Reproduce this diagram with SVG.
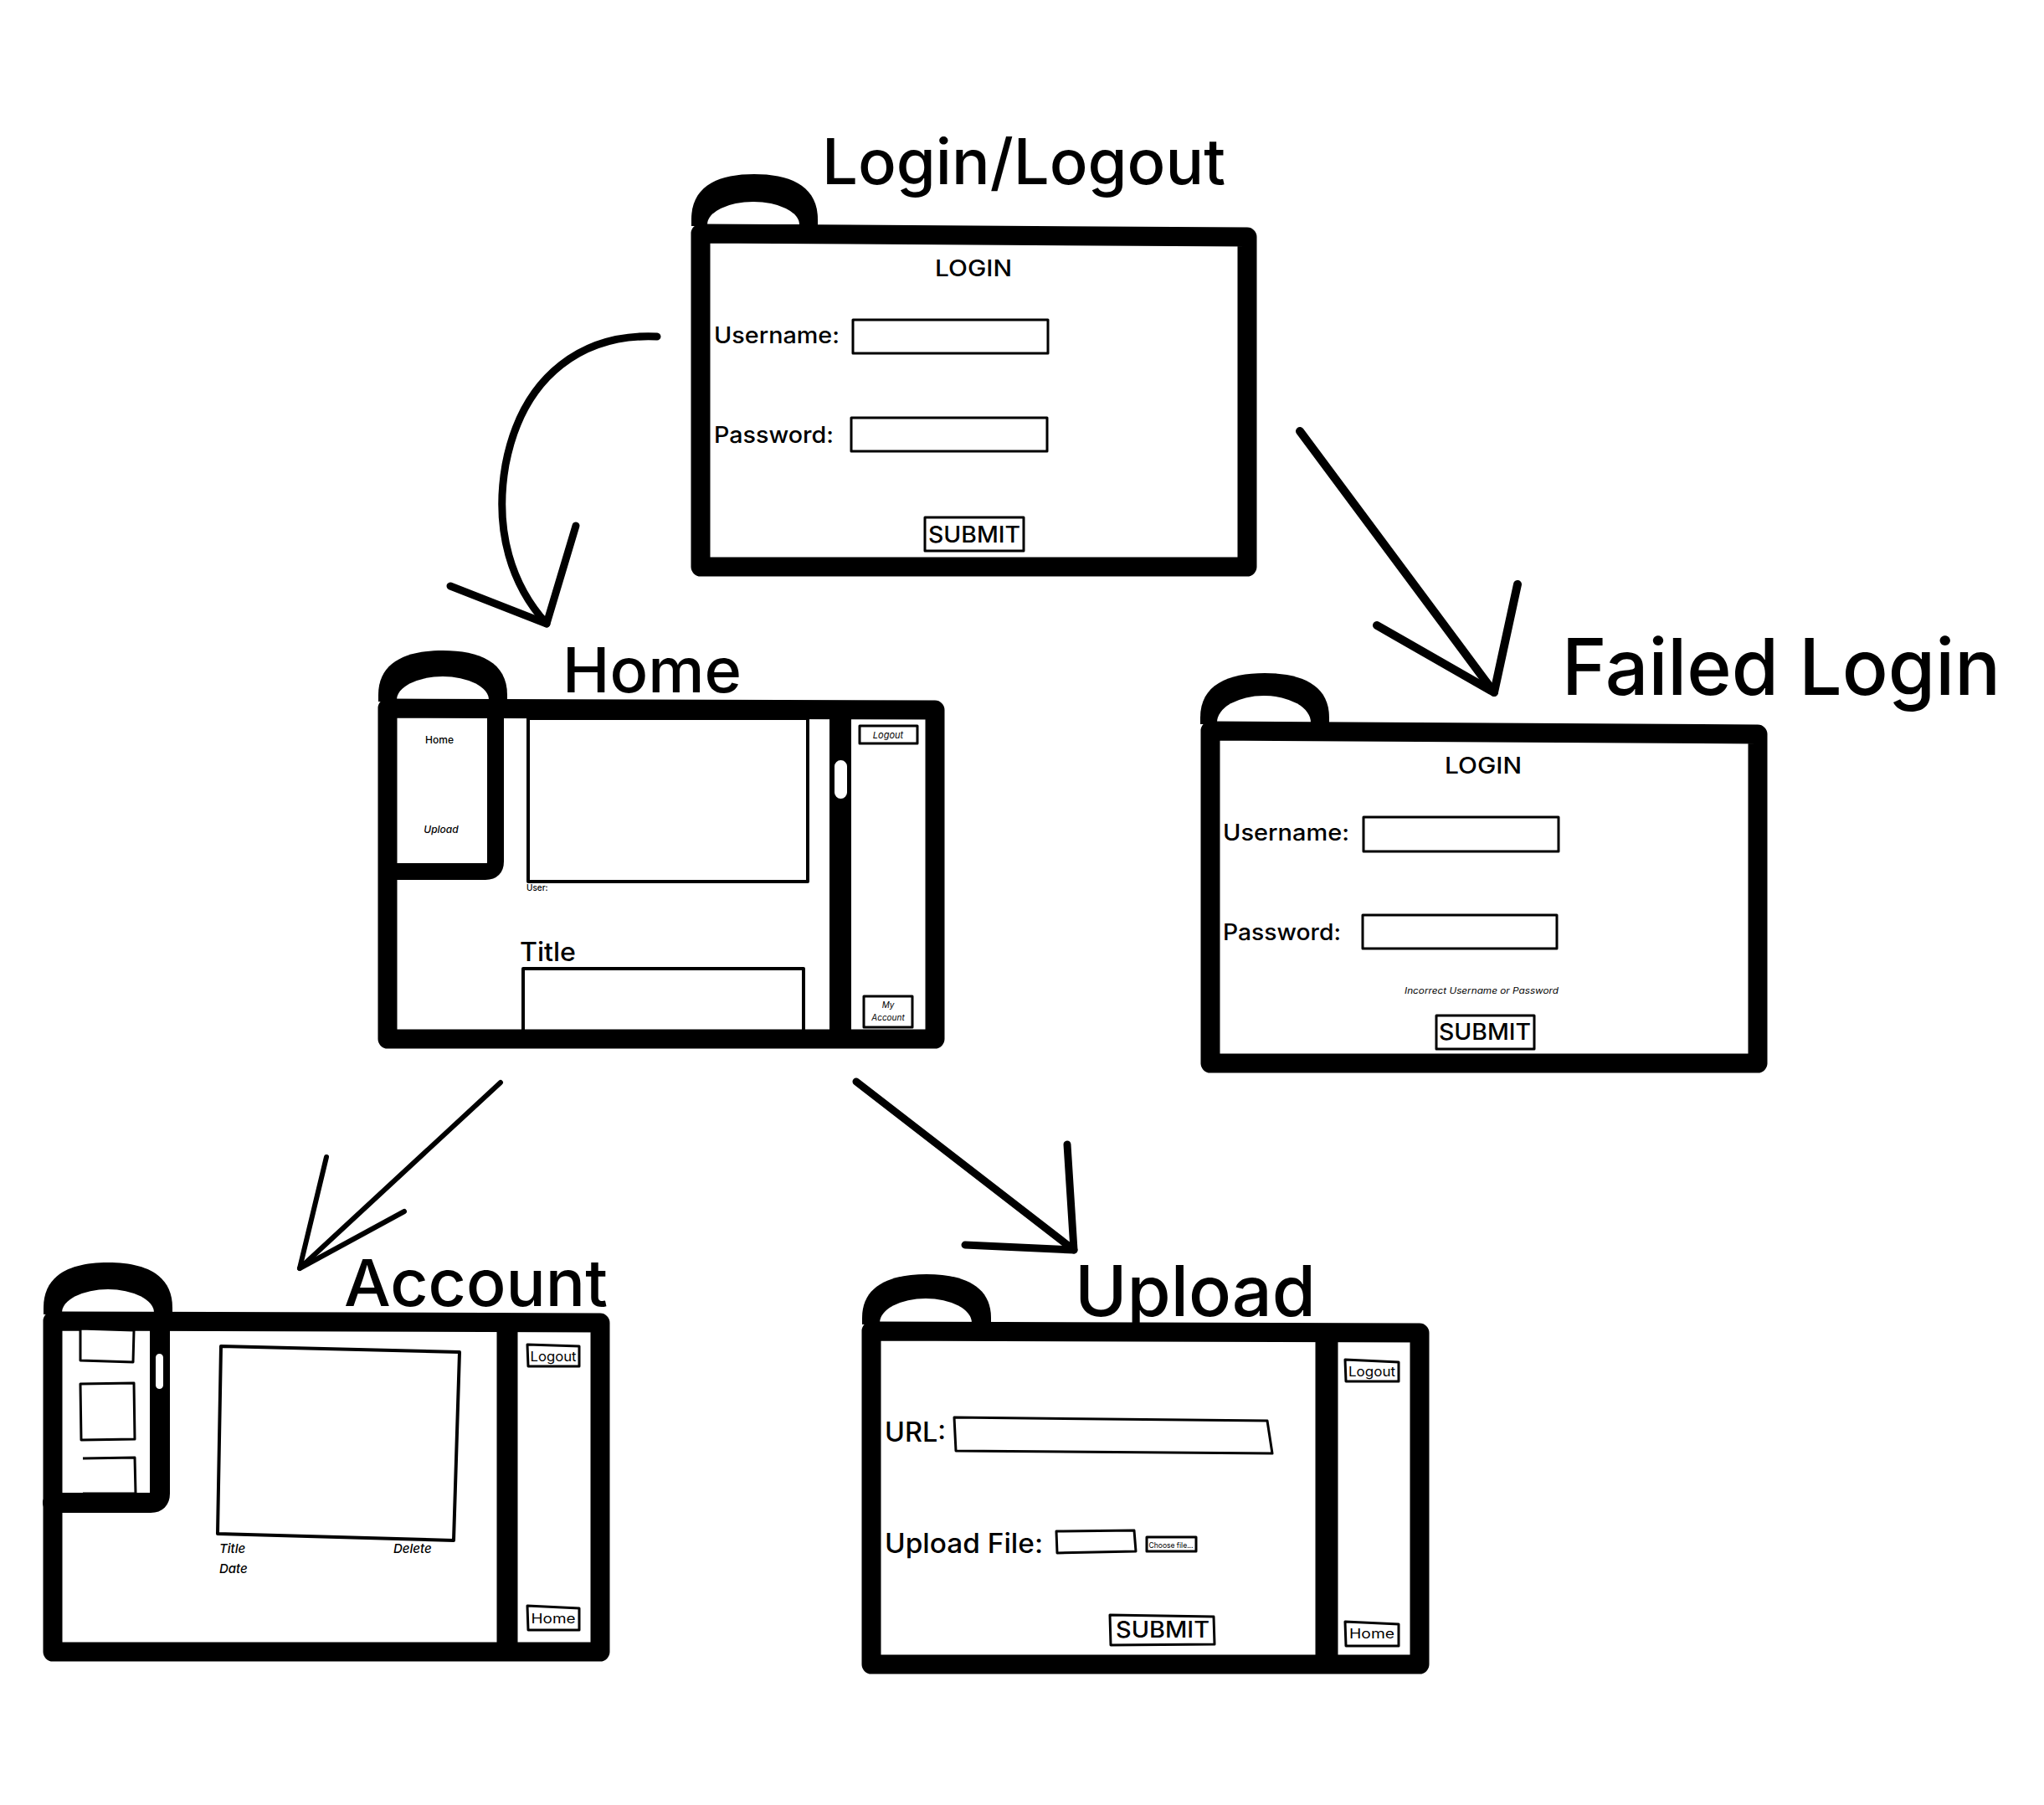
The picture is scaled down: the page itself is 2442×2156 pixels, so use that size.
<svg xmlns="http://www.w3.org/2000/svg" width="2442" height="2156" viewBox="0 0 2442 2156">
<defs>
<style>
.frame{fill:#fff;stroke:#000;stroke-width:23;stroke-linejoin:round;stroke-linecap:round}
.tabo{fill:#000}
.tabi{fill:#fff}
.thick{fill:none;stroke:#000;stroke-linecap:round;stroke-linejoin:round}
.box{fill:#fff;stroke:#000;stroke-width:4;stroke-linejoin:round}
.thin{fill:#fff;stroke:#000;stroke-width:3;stroke-linejoin:round}
.pill{fill:#fff;stroke:#000;stroke-width:2}
.conn{fill:none;stroke:#000;stroke-linecap:round;stroke-linejoin:round}
text{font-family:Inter,"Liberation Sans",Arial,sans-serif;fill:#000}
.title{font-weight:500}
.lbl{font-weight:500;font-size:27px}
.it{font-style:italic}
</style>
</defs>
<rect width="2442" height="2156" fill="#fff"/>

<g id="connectors">
<path class="conn" stroke-width="9" d="M785,402 C700,398 625,445 604,555 C590,635 612,700 653,745"/>
<path class="conn" stroke-width="9" d="M688,628 L653,745 L538,700"/>
<path class="conn" stroke-width="10" d="M1553,515 L1785,827"/>
<path class="conn" stroke-width="10" d="M1813,698 L1785,827 L1645,747"/>
<path class="conn" stroke-width="6" d="M598,1293 L358,1515"/>
<path class="conn" stroke-width="6" d="M390,1382 L358,1515 L483,1447"/>
<path class="conn" stroke-width="9" d="M1023,1292 L1283,1493"/>
<path class="conn" stroke-width="9" d="M1275,1367 L1283,1493 L1153,1487"/>
</g>

<g id="node-login">
<text class="title" x="982" y="220" font-size="75" textLength="482" lengthAdjust="spacingAndGlyphs">Login/Logout</text>
<path class="tabo" d="M826,270 L826,262 C826,222 858,208 901,208 C944,208 977,222 977,262 L977,270 Z"/>
<path class="tabi" d="M845,268 A55,27 0 0 1 955,268 Z"/>
<path class="frame" d="M837,279 L1490,283 L1490,677 L837,677 Z"/>
<text class="lbl" x="1163" y="330" text-anchor="middle" textLength="92" lengthAdjust="spacingAndGlyphs">LOGIN</text>
<text class="lbl" x="853" y="410" textLength="150" lengthAdjust="spacingAndGlyphs">Username:</text>
<rect class="thin" x="1019" y="382" width="233" height="40"/>
<text class="lbl" x="853" y="529" textLength="143" lengthAdjust="spacingAndGlyphs">Password:</text>
<rect class="thin" x="1017" y="499" width="234" height="40"/>
<rect class="thin" x="1105" y="618" width="118" height="40"/>
<text class="lbl" x="1164" y="648" text-anchor="middle" textLength="110" lengthAdjust="spacingAndGlyphs">SUBMIT</text>
</g>

<g id="node-home">
<text class="title" x="672" y="827" font-size="74" textLength="214" lengthAdjust="spacingAndGlyphs">Home</text>
<path class="tabo" d="M452,838 L452,830 C452,791 485,777 529,777 C573,777 606,791 606,830 L606,838 Z"/>
<path class="tabi" d="M474,836 A55,28 0 0 1 584,836 Z"/>
<path class="frame" d="M463,846 L1117,848 L1117,1241 L463,1241 Z"/>
<path class="thick" stroke-width="20" d="M463,1041 L580,1041 Q592,1041 592,1029 L592,846"/>
<text x="525" y="888" font-size="12" text-anchor="middle" font-weight="500">Home</text>
<text class="it" x="527" y="995" font-size="12" text-anchor="middle" font-weight="500">Upload</text>
<rect class="box" x="631" y="858" width="334" height="195"/>
<text x="629" y="1064" font-size="10" font-weight="500">User:</text>
<text x="621" y="1148" font-size="31" font-weight="500" textLength="67" lengthAdjust="spacingAndGlyphs">Title</text>
<path class="thick" stroke-width="4" d="M625,1232 L625,1157 L960,1157 L960,1232"/>
<line x1="1004" y1="846" x2="1004" y2="1241" stroke="#000" stroke-width="26"/>
<rect class="pill" x="996" y="907" width="17" height="48" rx="8.5"/>
<rect class="thin" x="1027" y="867" width="69" height="21"/>
<text class="it" x="1061" y="882" font-size="11" text-anchor="middle">Logout</text>
<rect class="thin" x="1032" y="1190" width="58" height="37"/>
<text class="it" x="1061" y="1204" font-size="10" text-anchor="middle">My</text>
<text class="it" x="1061" y="1219" font-size="10" text-anchor="middle">Account</text>
</g>

<g id="node-failed">
<text class="title" x="1866" y="830" font-size="93" textLength="524" lengthAdjust="spacingAndGlyphs">Failed Login</text>
<path class="tabo" d="M1434,865 L1434,857 C1434,818 1467,804 1511,804 C1555,804 1588,818 1588,857 L1588,865 Z"/>
<path class="tabi" d="M1454,863 A56,32 0 0 1 1566,863 Z"/>
<path class="frame" d="M1446,873 L2100,877 L2100,1270 L1446,1270 Z"/>
<text class="lbl" x="1772" y="924" text-anchor="middle" textLength="92" lengthAdjust="spacingAndGlyphs">LOGIN</text>
<text class="lbl" x="1461" y="1004" textLength="151" lengthAdjust="spacingAndGlyphs">Username:</text>
<rect class="thin" x="1629" y="976" width="233" height="41"/>
<text class="lbl" x="1461" y="1123" textLength="141" lengthAdjust="spacingAndGlyphs">Password:</text>
<rect class="thin" x="1628" y="1093" width="232" height="40"/>
<text class="it" x="1770" y="1187" font-size="10" text-anchor="middle" textLength="184" lengthAdjust="spacingAndGlyphs">Incorrect Username or Password</text>
<rect class="thin" x="1716" y="1213" width="117" height="40"/>
<text class="lbl" x="1774" y="1242" text-anchor="middle" textLength="110" lengthAdjust="spacingAndGlyphs">SUBMIT</text>
</g>

<g id="node-account">
<text class="title" x="411" y="1560" font-size="77" textLength="315" lengthAdjust="spacingAndGlyphs">Account</text>
<path class="tabo" d="M52,1570 L52,1562 C52,1522 85,1508 129,1508 C173,1508 206,1522 206,1562 L206,1570 Z"/>
<path class="tabi" d="M74,1568 A55,28 0 0 1 184,1568 Z"/>
<path class="frame" d="M63,1578 L717,1580 L717,1973 L63,1973 Z"/>
<path class="thin" d="M96,1587 L160,1589 L159,1627 L96,1625 Z"/>
<path class="thin" d="M96,1653 L160,1652 L161,1719 L97,1720 Z"/>
<path class="thin" d="M99,1742 L161,1741 L162,1784 L99,1784"/>
<path class="thick" stroke-width="24" d="M63,1795 L180,1795 Q191,1795 191,1784 L191,1578"/>
<rect class="pill" x="185" y="1616" width="11" height="44" rx="5.5"/>
<path class="box" stroke-width="5" d="M264,1608 L549,1615 L542,1840 L260,1832 Z"/>
<text class="it" x="262" y="1855" font-size="15" font-weight="500">Title</text>
<text class="it" x="262" y="1879" font-size="15" font-weight="500">Date</text>
<text class="it" x="470" y="1855" font-size="15" font-weight="500">Delete</text>
<line x1="606" y1="1579" x2="606" y2="1973" stroke="#000" stroke-width="25"/>
<path class="thin" d="M630,1606 L692,1608 L692,1632 L631,1632 Z"/>
<text x="661" y="1626" font-size="16" text-anchor="middle" textLength="55" lengthAdjust="spacingAndGlyphs">Logout</text>
<path class="thin" d="M630,1918 L692,1921 L692,1947 L631,1947 Z"/>
<text x="661" y="1939" font-size="16" text-anchor="middle" textLength="53" lengthAdjust="spacingAndGlyphs">Home</text>
</g>

<g id="node-upload">
<text class="title" x="1284" y="1572" font-size="84" textLength="288" lengthAdjust="spacingAndGlyphs">Upload</text>
<path class="tabo" d="M1030,1582 L1030,1574 C1030,1536 1063,1522 1107,1522 C1151,1522 1184,1536 1184,1574 L1184,1582 Z"/>
<path class="tabi" d="M1051,1580 A55,29 0 0 1 1161,1580 Z"/>
<path class="frame" d="M1041,1590 L1696,1592 L1696,1988 L1041,1988 Z"/>
<line x1="1585" y1="1591" x2="1585" y2="1988" stroke="#000" stroke-width="27"/>
<text x="1057" y="1722" font-size="32" font-weight="500" textLength="73" lengthAdjust="spacingAndGlyphs">URL:</text>
<path class="thin" stroke-width="4" d="M1140,1693 L1514,1697 L1520,1736 L1142,1733 Z"/>
<text x="1057" y="1855" font-size="32" font-weight="500" textLength="189" lengthAdjust="spacingAndGlyphs">Upload File:</text>
<path class="thin" stroke-width="4" d="M1262,1829 L1355,1828 L1357,1853 L1263,1855 Z"/>
<rect class="thin" x="1370" y="1836" width="59" height="17" stroke-width="2.5"/>
<text x="1399" y="1849" font-size="9" text-anchor="middle" textLength="53" lengthAdjust="spacingAndGlyphs">Choose file...</text>
<path class="thin" d="M1326,1929 L1450,1931 L1451,1964 L1327,1965 Z"/>
<text class="lbl" x="1389" y="1956" text-anchor="middle" textLength="112" lengthAdjust="spacingAndGlyphs">SUBMIT</text>
<path class="thin" d="M1607,1624 L1671,1627 L1671,1650 L1608,1650 Z"/>
<text x="1639" y="1644" font-size="16" text-anchor="middle" textLength="56" lengthAdjust="spacingAndGlyphs">Logout</text>
<path class="thin" d="M1607,1937 L1671,1940 L1671,1966 L1608,1966 Z"/>
<text x="1639" y="1957" font-size="16" text-anchor="middle" textLength="54" lengthAdjust="spacingAndGlyphs">Home</text>
</g>
</svg>
